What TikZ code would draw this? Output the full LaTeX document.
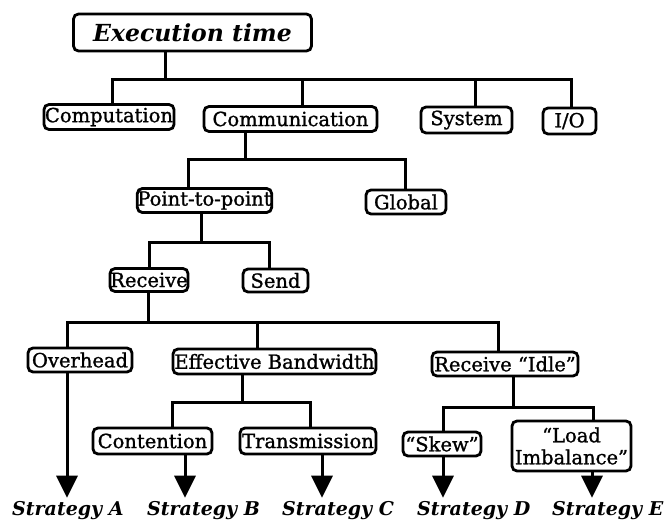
\documentclass[tikz,border=0pt]{standalone}
\usepackage{fontspec}
\setmainfont{DejaVu Serif}
\newfontfamily\boxfont[FakeBold=1.2]{DejaVu Serif}
\usetikzlibrary{arrows.meta}
\begin{document}
\begin{tikzpicture}[x=1pt,y=-1pt,
  box/.style={draw, line width=2.8pt, rounded corners=5pt, inner sep=0pt, align=center,
    font=\boxfont\fontsize{19.5}{21}\selectfont},
  conn/.style={line width=3pt, line join=miter},
  arr/.style={line width=3pt, -{Triangle[width=21pt,length=22pt]}, shorten >=3pt},
  strat/.style={font=\fontsize{19}{20}\selectfont\bfseries\itshape, inner sep=0pt, anchor=base west},
]
\useasboundingbox (0,0) rectangle (665,522);

% nodes
\node[box, minimum width=238pt, minimum height=37pt, font=\fontsize{23.5}{24}\selectfont\bfseries\itshape] (exec) at (192.5,32.5) {Execution time};
\node[box, minimum width=130pt, minimum height=25pt] (comp) at (109,117) {Computation};
\node[box, minimum width=173pt, minimum height=25pt] (comm) at (290.5,119) {Communication};
\node[box, minimum width=91pt, minimum height=26pt] (sys) at (466.5,120) {System};
\node[box, minimum width=53pt, minimum height=26pt] (io) at (569.5,121) {I/O};

\node[box, minimum width=133pt, minimum height=24pt] (p2p) at (204.5,200.5) {Point-to-point};
\node[box, minimum width=80pt, minimum height=24pt] (glob) at (406,202) {Global};

\node[box, minimum width=78pt, minimum height=23pt] (recv) at (149,280) {Receive};
\node[box, minimum width=65pt, minimum height=23pt] (send) at (275.5,280.5) {Send};

\node[box, minimum width=104pt, minimum height=24pt] (over) at (80,360) {Overhead};
\node[box, minimum width=203pt, minimum height=25pt] (effbw) at (274.5,361.5) {Effective Bandwidth};
\node[box, minimum width=146pt, minimum height=24pt] (ridle) at (505,364) {Receive “Idle”};

\node[box, minimum width=119pt, minimum height=26pt] (cont) at (152.5,441) {Contention};
\node[box, minimum width=136pt, minimum height=26pt] (trans) at (308,441) {Transmission};
\node[box, minimum width=78pt, minimum height=24pt] (skew) at (442,444) {“Skew”};
\node[box, minimum width=119pt, minimum height=50pt, font=\boxfont\fontsize{19.5}{22}\selectfont] (li) at (571.5,446) {“Load\\Imbalance”};

\node[strat] (sa) at (12,515) {Strategy A};
\node[strat] (sb) at (147,515) {Strategy B};
\node[strat] (sc) at (282,515) {Strategy C};
\node[strat] (sd) at (417,515) {Strategy D};
\node[strat] (se) at (552,515) {Strategy E};

% bus levels
\coordinate (b1) at (0,79);
\coordinate (b2) at (0,159);
\coordinate (b3) at (0,242);
\coordinate (b4) at (0,322);
\coordinate (b5) at (0,402);
\coordinate (b6) at (0,407);

% level 1
\draw[conn] ([xshift=-27.5pt]exec.south) -- ([xshift=-27.5pt]exec.south |- b1);
\draw[conn] ([xshift=3pt]comp.north) |- ([xshift=1.5pt]io.north |- b1) -- ([xshift=1.5pt]io.north);
\draw[conn] ([xshift=11.5pt]comm.north) -- ([xshift=11.5pt]comm.north |- b1);
\draw[conn] ([xshift=8.5pt]sys.north) -- ([xshift=8.5pt]sys.north |- b1);

% level 2
\draw[conn] ([xshift=-45.5pt]comm.south) -- ([xshift=-45.5pt]comm.south |- b2);
\draw[conn] ([xshift=-16.5pt]p2p.north) |- ([xshift=-1pt]glob.north |- b2) -- ([xshift=-1pt]glob.north);

% level 3
\draw[conn] ([xshift=-3.5pt]p2p.south) -- ([xshift=-3.5pt]p2p.south |- b3);
\draw[conn] (recv.north) |- ([xshift=-6.5pt]send.north |- b3) -- ([xshift=-6.5pt]send.north);

% level 4
\draw[conn] ([xshift=-1pt]recv.south) -- ([xshift=-1pt]recv.south |- b4);
\draw[conn] ([xshift=-13pt]over.north) |- ([xshift=-7pt]ridle.north |- b4) -- ([xshift=-7pt]ridle.north);
\draw[conn] ([xshift=-17.5pt]effbw.north) -- ([xshift=-17.5pt]effbw.north |- b4);

% level 5
\draw[conn] ([xshift=-32.5pt]effbw.south) -- ([xshift=-32.5pt]effbw.south |- b5);
\draw[conn] ([xshift=19.5pt]cont.north) |- ([xshift=2pt]trans.north |- b5) -- ([xshift=2pt]trans.north);
\draw[conn] ([xshift=8pt]ridle.south) -- ([xshift=8pt]ridle.south |- b6);
\draw[conn] ([xshift=1pt]skew.north) |- ([xshift=21.5pt]li.north |- b6) -- ([xshift=21.5pt]li.north);

% arrows
\draw[arr] ([xshift=-13pt]over.south) -- ([xshift=-13pt]over.south |- sa.north);
\draw[arr] ([xshift=32.5pt]cont.south) -- ([xshift=32.5pt]cont.south |- sb.north);
\draw[arr] ([xshift=14pt]trans.south) -- ([xshift=14pt]trans.south |- sc.north);
\draw[arr] ([xshift=1pt]skew.south) -- ([xshift=1pt]skew.south |- sd.north);
\draw[arr] ([xshift=20.5pt]li.south) -- ([xshift=20.5pt]li.south |- se.north);
\end{tikzpicture}
\end{document}
